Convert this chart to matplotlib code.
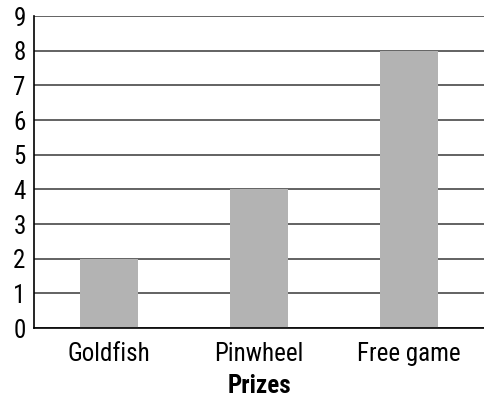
import matplotlib.pyplot as plt

prizes = ["Goldfish", "Pinwheel", "Free game"]
counts = [2, 4, 8]
y_ticks = list(range(0, 10))

plt.rcParams["font.family"] = ["Roboto Condensed", "DejaVu Sans"]

fig = plt.figure(figsize=(4.84, 3.98), dpi=100)
ax = fig.add_axes([34 / 484, 70 / 398, 1 - 34 / 484, 312 / 398])

x = range(len(prizes))
ax.bar(x, counts, width=0.39, color="#b3b3b3", zorder=3)

ax.set_xlim(-0.5, 2.5)
ax.set_ylim(0, 9)
ax.set_yticks(y_ticks)
ax.set_xticks(list(x))
ax.set_xticklabels(prizes)
ax.yaxis.grid(True, color="#484848", linewidth=1.2, zorder=1)
ax.set_axisbelow(True)

for side in ("top", "right"):
    ax.spines[side].set_visible(False)
for side in ("left", "bottom"):
    ax.spines[side].set_linewidth(1.2)
    ax.spines[side].set_zorder(4)

ax.tick_params(axis="both", length=0, labelsize=18, colors="black")
ax.tick_params(axis="y", pad=6)
ax.tick_params(axis="x", pad=10)
ax.set_xlabel("Prizes", fontsize=18, fontweight="bold", labelpad=6)

fig.savefig("out.png", dpi=100)
